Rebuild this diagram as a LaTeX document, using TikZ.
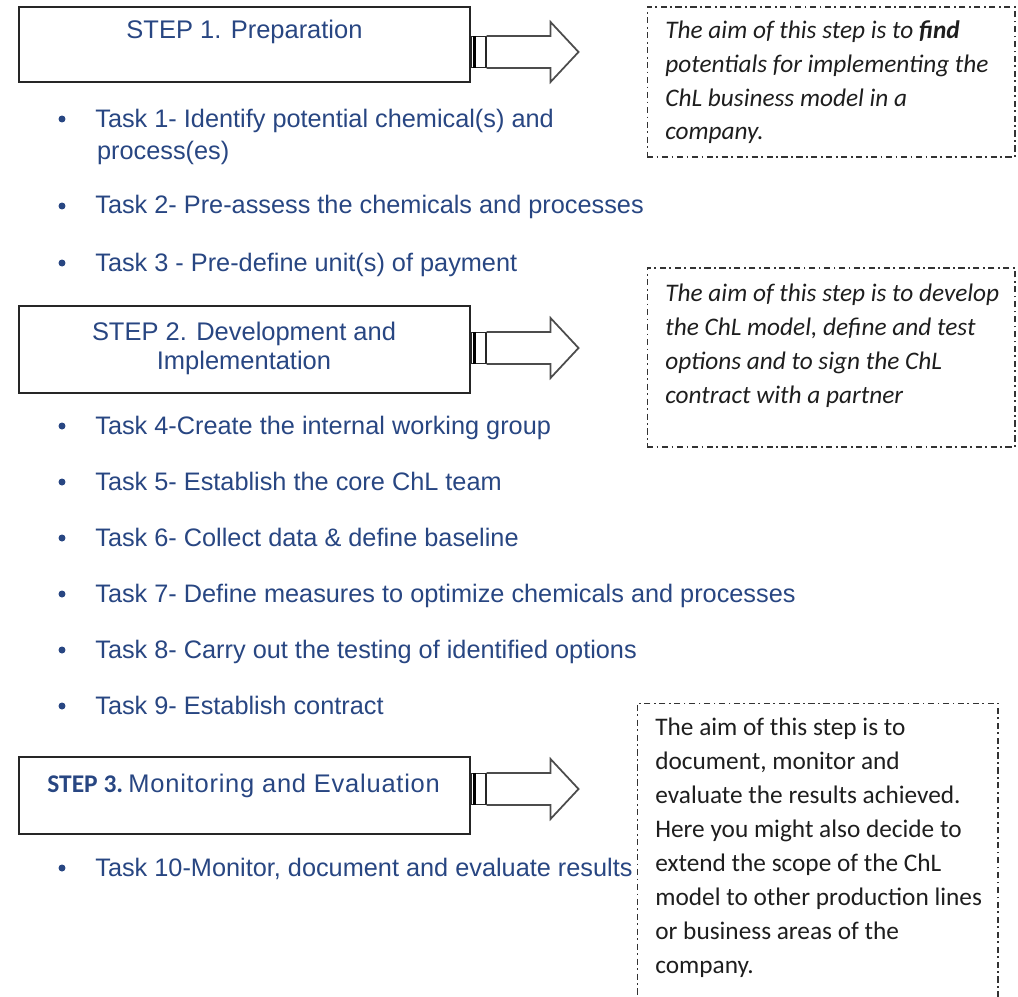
\documentclass[tikz,border=0pt]{standalone}
\usepackage{fontspec}
\setmainfont{Liberation Sans}
\newfontfamily\calfont{Carlito}
\usepackage{xcolor}
\usetikzlibrary{calc,positioning}
\definecolor{taskblue}{RGB}{40,70,130}
\definecolor{notegray}{RGB}{30,30,30}

\begin{document}
\begin{tikzpicture}[x=0.02cm, y=-0.02cm,
	stepbox/.style = {draw=black!85, line width=1.1pt, minimum width=9.02cm, inner sep=0pt},
	head/.style = {text=taskblue, font=\fontsize{14.5}{16.4}\selectfont, align=center, inner sep=0pt},
	task/.style = {text=taskblue, font=\fontsize{14.4}{18.2}\selectfont, anchor=base west, align=left, inner sep=0pt},
	dot/.style = {fill=taskblue, circle, inner sep=0pt, minimum size=0.14cm},
	note/.style = {draw=black!80, line width=0.6pt, dash pattern=on 3.5pt off 2pt on 1pt off 2pt, inner sep=0pt},
	notetext/.style = {text=notegray, font=\calfont\fontsize{14.4}{19.35}\selectfont, anchor=base west, align=left, inner sep=0pt},
	con/.style = {draw=black!85, line width=0.6pt, minimum width=0.3cm, minimum height=0.62cm, inner sep=0pt},
	blockarrow/.style = {draw=black!70, line width=1pt, line join=miter}]

	\clip (0,0) rectangle (1018,997);

	% steps
	\node[stepbox, minimum height=1.5cm] (s1) at (244.5,44.5) {};
	\node[stepbox, minimum height=1.74cm] (s2) at (244.5,349.5) {};
	\node[stepbox, minimum height=1.54cm] (s3) at (244.5,795.5) {};
	\node[head, anchor=base] (h1) at (244.5,39) {STEP 1. Preparation};
	\node[head, anchor=base] (h2) at (244,369) {STEP 2. Development and\\Implementation};
	\node[head, anchor=base west] (h3) at (47,792) {{\calfont\bfseries STEP 3.}\hspace{3pt}{\addfontfeatures{LetterSpace=3}Monitoring and Evaluation}};

	% arrows
	\foreach \i/\y in {1/52, 2/348, 3/789} {
		\node[con] (c\i) at (478.5,\y) {};
		\draw[line width=2.2pt] ($(c\i.north west)+(4,0)$) -- ($(c\i.south west)+(4,0)$);
		\draw[blockarrow] (c\i.east) ++(0,-16) -- ++(64,0) -- ++(0,-14) -- ++(28,30) -- ++(-28,30) -- ++(0,-14) -- ++(-64,0);
	}

	% tasks
	\node[dot] (b1) at (62,119) {};
	\node[task] (t1) at (95,159) {Task 1- Identify potential chemical(s) and\\\hspace{1pt}process(es)};
	\foreach \n/\y/\txt in {2/214/{Task 2- Pre-assess the chemicals and processes},
		3/271/{Task 3 - Pre-define unit(s) of payment},
		4/434/{Task 4-Create the internal working group},
		5/490/{Task 5- Establish the core ChL team},
		6/546/{Task 6- Collect data \& define baseline},
		7/602/{Task 7- Define measures to optimize chemicals and processes},
		8/658/{Task 8- Carry out the testing of identified options},
		9/714/{Task 9- Establish contract},
		10/876/{Task 10-Monitor, document and evaluate results}} {
		\node[dot] (b\n) at (62,\y-8) {};
		\node[task] (t\n) at (95,\y) {\txt};
	}

	% notes
	\node[note, minimum width=7.36cm, minimum height=3cm] (n1) at (831,82) {};
	\node[note, minimum width=7.36cm, minimum height=3.58cm] (n2) at (831,357.5) {};
	\node[note, minimum width=7.22cm, minimum height=6.14cm] (n3) at (817.5,856.5) {};
	\node[notetext, font=\calfont\itshape\fontsize{14.4}{19.35}\selectfont] (m1) at (665,140) {The aim of this step is to \textbf{find}\\potentials for implementing the\\ChL business model in a\\company.};
	\node[notetext, font=\calfont\itshape\fontsize{14.4}{19.35}\selectfont] (m2) at (665,403) {The aim of this step is to develop\\the ChL model, define and test\\options and to sign the ChL\\contract with a partner};
	\node[notetext] (m3) at (655,973) {The aim of this step is to\\document, monitor and\\evaluate the results achieved.\\Here you might also decide to\\extend the scope of the ChL\\model to other production lines\\or business areas of the\\company.};
\end{tikzpicture}
\end{document}
